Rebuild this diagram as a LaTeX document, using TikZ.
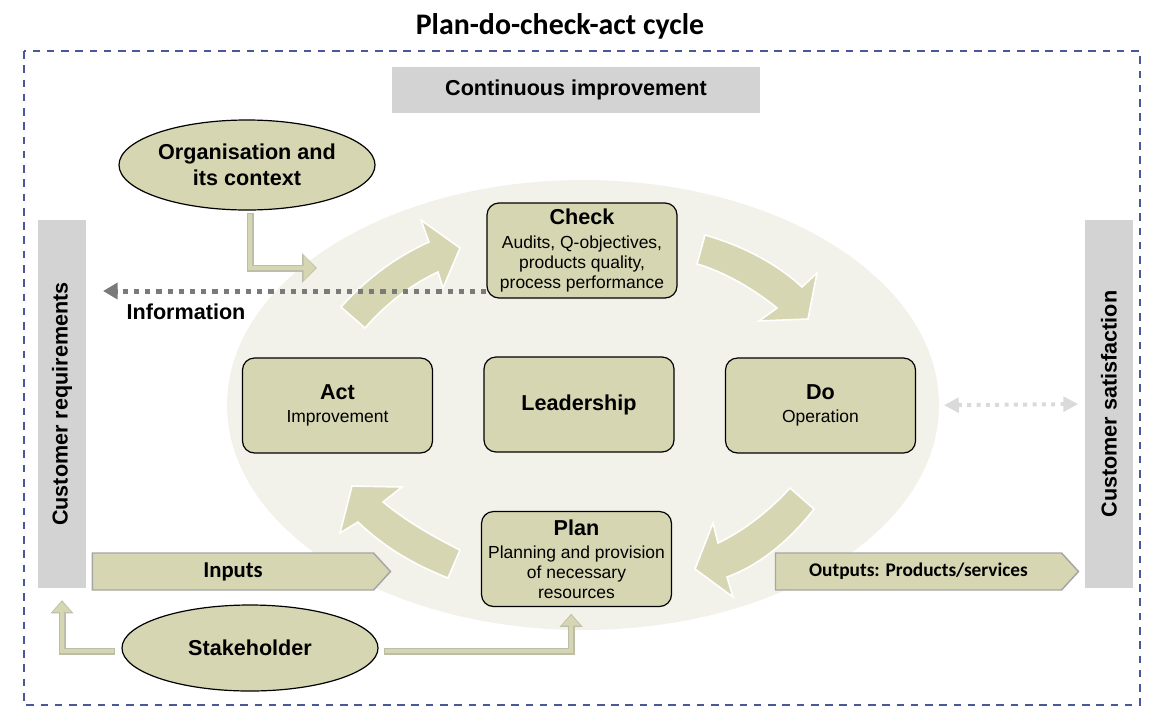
\documentclass[tikz,border=0pt]{standalone}
\usepackage{fontspec}
\setmainfont{Liberation Sans}
\newfontfamily\calibri{Carlito}
\usetikzlibrary{arrows.meta, positioning, shapes.geometric, shapes.symbols}
\definecolor{olivefill}{RGB}{214,214,179}
\definecolor{creambg}{RGB}{242,242,234}
\definecolor{panelgray}{RGB}{211,211,211}
\definecolor{frameblue}{RGB}{72,88,152}
\definecolor{tubeedge}{RGB}{188,190,170}
\definecolor{siggray}{RGB}{165,165,165}
\definecolor{infogray}{RGB}{122,122,122}
\definecolor{faintgray}{RGB}{218,218,218}
\newcommand{\lblfont}{\fontsize{16.2}{19.5}\selectfont\bfseries}
\newcommand{\descfont}{\fontsize{13.1}{15}\selectfont}

\begin{document}
\begin{tikzpicture}[x=0.75pt, y=-0.75pt,
  stagebox/.style={draw=black, line width=0.9pt, fill=olivefill, rounded corners=9pt,
    minimum width=142.5pt, minimum height=71.25pt, align=center, inner sep=1pt, font=\descfont},
  bubble/.style={ellipse, draw=black, line width=0.9pt, fill=olivefill, minimum width=192pt,
    align=center, inner sep=0pt, font=\lblfont},
  panel/.style={fill=panelgray, inner sep=0pt, font=\lblfont},
  flowsig/.style={signal, signal to=east, signal pointer angle=95, fill=olivefill, draw=siggray,
    line width=1.1pt, minimum height=27.75pt, inner sep=0pt},
  cyclearrow/.style={fill=olivefill, draw=white, line width=1.2pt, line join=miter},
  tubeouter/.style 2 args={line width=5.25pt, draw=tubeedge, line join=miter,
    -{Triangle[length=#1, width=#2]}},
  tubeinner/.style 2 args={line width=3.3pt, draw=olivefill, line join=miter,
    shorten >=1.1pt, -{Triangle[length=#1, width=#2]}},
  infoarrow/.style={draw=infogray, line width=3.75pt, dash pattern=on 3.9pt off 4.5pt,
    -{Triangle[length=11pt, width=12pt]}},
  faintarrow/.style={draw=faintgray, line width=3pt, dash pattern=on 3pt off 4pt,
    {Triangle[length=11pt, width=11pt]}-{Triangle[length=11pt, width=11pt]}}
]
\useasboundingbox (0,0) rectangle (1152,715);

% Frame and title
\draw[frameblue, line width=1.1pt, dash pattern=on 5.7pt off 5pt] (24,51) rectangle (1140,705);
\node (title) at (560,26) {\calibri\fontsize{22.4}{26}\selectfont\bfseries Plan-do-check-act cycle};

% Background of the cycle
\fill[creambg] (583,405) ellipse [x radius=356, y radius=225];

% Cycle arrows
\draw[cyclearrow] (341,307) .. controls (370,275) and (400,255) .. (429,242) -- (421,220) -- (460,248)
  -- (443,288) -- (438,272) .. controls (410,285) and (385,305) .. (365,328) -- cycle;
\draw[cyclearrow] (705,235) .. controls (740,245) and (775,262) .. (802,287) -- (817,273) -- (808,319)
  -- (759,321) -- (777,308) .. controls (755,290) and (725,272) .. (697,264) -- cycle;
\draw[cyclearrow] (790,488) .. controls (770,510) and (745,530) .. (718,543) -- (713,523) -- (695,569)
  -- (733,597) -- (727,577) .. controls (760,565) and (790,540) .. (814,509) -- cycle;
\draw[cyclearrow] (460,550) .. controls (430,535) and (405,520) .. (383,502) -- (402,487) -- (352,486)
  -- (340,533) -- (358,522) .. controls (385,548) and (415,565) .. (448,578) -- cycle;

% Side panels
\node[panel, minimum width=276pt, minimum height=34.5pt] (improve) at (576,90) {Continuous improvement};
\node[panel, minimum width=276pt, minimum height=36pt, rotate=90] (custreq) at (62,404) {Customer requirements};
\node[panel, minimum width=276pt, minimum height=36pt, rotate=90] (custsat) at (1109,404) {Customer satisfaction};

% Stages
\node[stagebox] (check) at (582,250.5) {{\lblfont Check}\\[2.6pt]Audits, Q-objectives,\\products quality,\\process performance};
\node[stagebox] (act) at (337.5,405.5) {{\lblfont Act}\\[2.6pt]Improvement};
\node[stagebox, font=\lblfont] (lead) at (579,404.5) {Leadership};
\node[stagebox] (do) at (820.5,405.5) {{\lblfont Do}\\[2.6pt]Operation};
\node[stagebox] (plan) at (576.5,559) {{\lblfont Plan}\\[2.6pt]Planning and provision\\of necessary\\resources};

% Context and stakeholder
\node[bubble, minimum height=67.5pt] (org) at (247,165) {Organisation and\\its context};
\node[bubble, minimum height=64.5pt] (stake) at (250,648) {Stakeholder};

% Inputs and outputs
\node[flowsig, minimum width=223.5pt, font=\calibri\fontsize{17}{20}\selectfont\bfseries] (inputs) at (233,571.5) {Inputs};
\node[flowsig, minimum width=227.25pt, font=\calibri\fontsize{14.5}{17}\selectfont\bfseries] (outputs) at (918.5,571.5) {Outputs: Products/services};

% Information flow
\coordinate (infoEnd) at (103,291);
\draw[infoarrow] (check.west |- infoEnd) -- (infoEnd);
\node[font=\lblfont] (infolbl) at (186,312) {Information};
\draw[faintarrow, shorten <=21pt, shorten >=5pt] (do.east) -- (custsat.north);

% Hollow arrows
\coordinate (orgEnd) at (317,268);
\draw[tubeouter={11.25pt}{21.75pt}, shorten <=2pt] ([xshift=2.25pt]org.south) |- (orgEnd);
\draw[tubeinner={9pt}{18.5pt}, shorten <=2.8pt] ([xshift=2.25pt]org.south) |- (orgEnd);
\draw[tubeouter={9.75pt}{16.5pt}, shorten <=4.5pt, shorten >=9pt] ([yshift=-2.25pt]stake.west) -| (custreq.west);
\draw[tubeinner={7.8pt}{13.5pt}, shorten <=5.3pt, shorten >=10.1pt] ([yshift=-2.25pt]stake.west) -| (custreq.west);
\draw[tubeouter={9.75pt}{16.5pt}, shorten <=3.75pt, shorten >=5pt] ([yshift=-2.25pt]stake.east) -| ([xshift=-4pt]plan.south);
\draw[tubeinner={7.8pt}{13.5pt}, shorten <=4.5pt, shorten >=6.1pt] ([yshift=-2.25pt]stake.east) -| ([xshift=-4pt]plan.south);
\end{tikzpicture}
\end{document}
